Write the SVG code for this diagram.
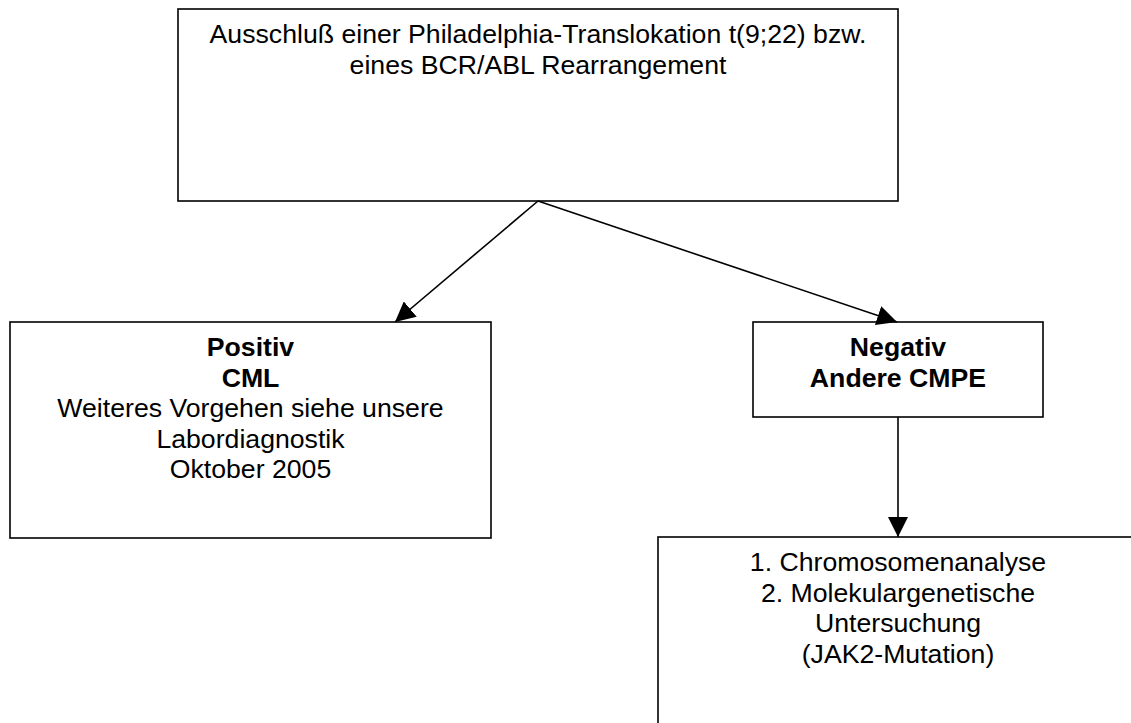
<svg xmlns="http://www.w3.org/2000/svg" width="1131" height="723" viewBox="0 0 1131 723">
<style>
.box{fill:#fff;stroke:#000;stroke-width:1.6}
.t{font-family:"Liberation Sans",Arial,sans-serif;font-size:26.67px;fill:#000;text-anchor:middle}
.b{font-weight:bold}
.c{stroke:#000;stroke-width:1.6;fill:none;marker-end:url(#ah)}
</style>
<defs>
<marker id="ah" markerUnits="userSpaceOnUse" markerWidth="20" markerHeight="20" refX="20" refY="10" orient="auto">
<path d="M0,0 L20,10 L0,20 z" fill="#000"/>
</marker>
</defs>
<rect width="1131" height="723" fill="#fff"/>
<g id="n-top">
<rect class="box" x="178" y="9" width="720" height="192"/>
<text class="t" x="538" y="43">Ausschluß einer Philadelphia-Translokation t(9;22) bzw.</text>
<text class="t" x="538" y="73.5">eines BCR/ABL Rearrangement</text>
</g>
<g id="n-pos">
<rect class="box" x="10" y="322" width="481" height="216"/>
<text class="t b" x="250.5" y="356">Positiv</text>
<text class="t b" x="250.5" y="387">CML</text>
<text class="t" x="250.5" y="417">Weiteres Vorgehen siehe unsere</text>
<text class="t" x="250.5" y="448">Labordiagnostik</text>
<text class="t" x="250.5" y="478">Oktober 2005</text>
</g>
<g id="n-neg">
<rect class="box" x="753" y="322" width="290" height="95"/>
<text class="t b" x="898" y="356">Negativ</text>
<text class="t b" x="898" y="387">Andere CMPE</text>
</g>
<g id="n-next">
<rect class="box" x="658" y="537" width="481" height="200"/>
<text class="t" x="898" y="571">1. Chromosomenanalyse</text>
<text class="t" x="898" y="602">2. Molekulargenetische</text>
<text class="t" x="898" y="632">Untersuchung</text>
<text class="t" x="898" y="663">(JAK2-Mutation)</text>
</g>
<g id="connectors">
<line class="c" x1="538" y1="201" x2="395" y2="322"/>
<line class="c" x1="538" y1="201" x2="897" y2="322"/>
<line class="c" x1="898" y1="417" x2="898" y2="537"/>
</g>
</svg>
